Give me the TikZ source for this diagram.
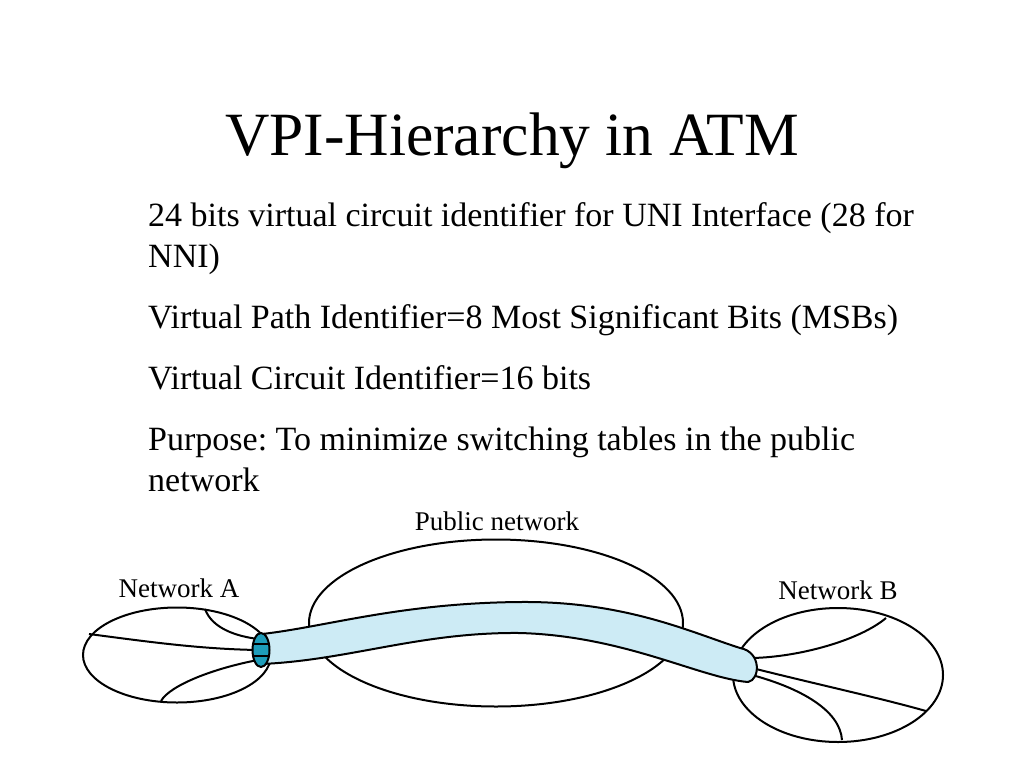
\documentclass[tikz,border=0pt]{standalone}
\usepackage{fontspec}
\setmainfont{Liberation Serif}
\usetikzlibrary{shapes.geometric}
\definecolor{tubefill}{RGB}{205,235,245}
\definecolor{capfill}{RGB}{30,157,186}
\frenchspacing
\begin{document}
\begin{tikzpicture}[x=1pt,y=-1pt,
  net/.style={draw=black,line width=2pt,ellipse,inner sep=0pt},
  wire/.style={draw=black,line width=2pt},
  tube/.style={fill=tubefill,draw=black,line width=2pt,line join=round},
  titletext/.style={font=\fontsize{61.5}{70}\selectfont,inner sep=0pt},
  bodytext/.style={font=\fontsize{34}{41}\selectfont,inner sep=0pt,anchor=base west},
  labeltext/.style={font=\fontsize{27}{32}\selectfont,inner sep=0pt}]
\useasboundingbox (0,0) rectangle (1024,768);
% title and text
\node[titletext,anchor=base] (title) at (512,155) {VPI-Hierarchy in ATM};
\node[bodytext] (t1a) at (148,226) {24 bits virtual circuit identifier for UNI Interface (28 for};
\node[bodytext] (t1b) at (148,267) {NNI)};
\node[bodytext] (t2) at (148,328) {Virtual Path Identifier=8 Most Significant Bits (MSBs)};
\node[bodytext] (t3) at (148,389) {Virtual Circuit Identifier=16 bits};
\node[bodytext] (t4a) at (148,450) {Purpose: To minimize switching tables in the public};
\node[bodytext] (t4b) at (148,491) {network};
% labels
\node[labeltext] (lpub) at (497,521) {Public network};
\node[labeltext] (la) at (179,588) {Network A};
\node[labeltext] (lb) at (838,590) {Network B};
% networks
\node[net,minimum width=374pt,minimum height=167pt] (pub) at (496,623) {};
\node[net,minimum width=188pt,minimum height=95pt] (neta) at (177,655) {};
\node[net,minimum width=210pt,minimum height=134pt] (netb) at (838,675) {};
% wires in network A
\coordinate (a1) at (205,609);
\coordinate (a2) at (89,634);
\coordinate (a3) at (161,701);
\coordinate (ca1) at (258,639);
\coordinate (ca2) at (258,650);
\coordinate (ca3) at (258,660);
\draw[wire] (a1) .. controls (212,628) and (235,636) .. (ca1);
\draw[wire] (a2) .. controls (150,642) and (200,649) .. (ca2);
\draw[wire] (a3) .. controls (170,685) and (215,668) .. (ca3);
% wires in network B
\coordinate (b1) at (886,618);
\coordinate (b2) at (926,711);
\coordinate (b3) at (842,740);
\coordinate (cb1) at (752,658);
\coordinate (cb2) at (752,668);
\coordinate (cb3) at (752,675);
\draw[wire] (cb1) .. controls (800,657) and (860,640) .. (b1);
\draw[wire] (cb2) .. controls (820,685) and (880,698) .. (b2);
\draw[wire] (cb3) .. controls (800,688) and (840,710) .. (b3);
% tube
\filldraw[tube] (262,634) .. controls (325,627) and (400,603) .. (520,602)
  .. controls (625,601) and (690,632) .. (740,648)
  .. controls (762,652) and (760,680) .. (748,682)
  .. controls (700,678) and (625,636) .. (520,633)
  .. controls (420,632) and (350,660) .. (262,664) -- cycle;
% cap
\node[ellipse,draw=black,fill=capfill,line width=2pt,inner sep=0pt,minimum width=17pt,minimum height=34pt] (cap) at (261,650) {};
\begin{scope}
\clip (261,650) ellipse [x radius=8.5pt,y radius=17pt];
\draw[wire] (250,644) -- (272,644);
\draw[wire] (250,656) -- (272,656);
\end{scope}
\end{tikzpicture}
\end{document}
